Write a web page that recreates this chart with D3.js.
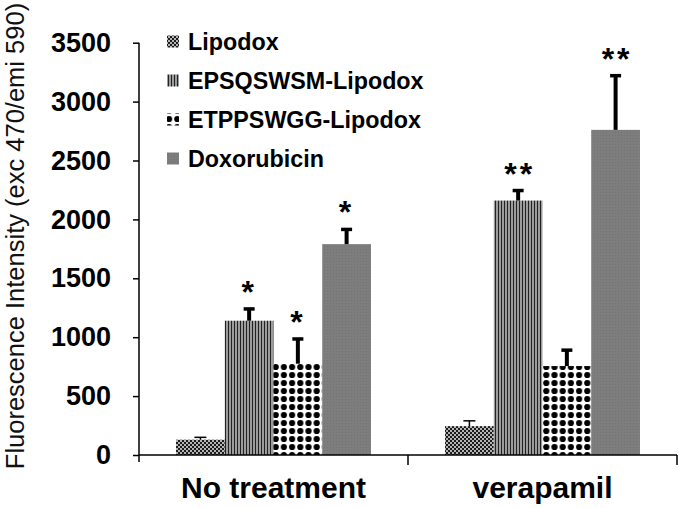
<!DOCTYPE html>
<html><head><meta charset="utf-8">
<script src="https://cdn.jsdelivr.net/npm/d3@7/dist/d3.min.js"></script>
<style>body{margin:0;background:#fff}svg{display:block;font-family:Arial,"Liberation Sans",sans-serif}</style>
</head><body><svg id="c" width="680" height="508"></svg>
<script>
const categories = ["No treatment", "verapamil"];
const series = ["Lipodox", "EPSQSWSM-Lipodox", "ETPPSWGG-Lipodox", "Doxorubicin"];
const values = [[130, 1140, 775, 1790], [245, 2160, 755, 2760]];
const errors = [[20, 100, 210, 125], [45, 85, 135, 460]];
const stars = [["", "*", "*", "*"], ["", "**", "", "**"]];
const yTicks = [0, 500, 1000, 1500, 2000, 2500, 3000, 3500];
const yTitle = "Fluorescence Intensity (exc 470/emi 590)";

const svg = d3.select("#c");
const L = 139, R = 677, T = 42.7, B = 455;
const y = d3.scaleLinear().domain([0, 3500]).range([B, T]);
const x0 = d3.scaleBand().domain(categories).range([L, R]).paddingInner(0).paddingOuter(0);
const x1 = d3.scaleBand().domain(series).range([0, x0.bandwidth()]).paddingInner(0).paddingOuter(0.76);

const defs = svg.append("defs");
// Lipodox: dark checker
let p = defs.append("pattern").attr("id", "p0").attr("patternUnits", "userSpaceOnUse").attr("width", 4).attr("height", 4);
p.append("rect").attr("width", 4).attr("height", 4).attr("fill", "#1c1c1c");
p.append("rect").attr("x", 0).attr("y", 0).attr("width", 2).attr("height", 2).attr("fill", "#b4b4b4");
p.append("rect").attr("x", 2).attr("y", 2).attr("width", 2).attr("height", 2).attr("fill", "#b4b4b4");
// EPSQ: vertical stripes
p = defs.append("pattern").attr("id", "p1").attr("patternUnits", "userSpaceOnUse").attr("width", 3).attr("height", 3);
p.append("rect").attr("width", 3).attr("height", 3).attr("fill", "#9c9c9c");
p.append("rect").attr("width", 1).attr("height", 3).attr("fill", "#222");
// ETPP: dots
p = defs.append("pattern").attr("id", "p2").attr("patternUnits", "userSpaceOnUse").attr("width", 8.2).attr("height", 8).attr("x", 1).attr("y", 3);
p.append("rect").attr("width", 8.2).attr("height", 8).attr("fill", "#fff");
p.append("circle").attr("cx", 4.1).attr("cy", 4).attr("r", 3.1).attr("fill", "#000");
// Doxorubicin: fine gray
p = defs.append("pattern").attr("id", "p3").attr("patternUnits", "userSpaceOnUse").attr("width", 3).attr("height", 3);
p.append("rect").attr("width", 3).attr("height", 3).attr("fill", "#7d7d7d");
p.append("rect").attr("width", 1).attr("height", 1).attr("fill", "#737373");
const fills = series.map((s, i) => `url(#p${i})`);

// bars
const g = svg.append("g");
categories.forEach((c, ci) => {
  series.forEach((s, si) => {
    const bx = x0(c) + x1(s), bw = x1.bandwidth(), v = values[ci][si], e = errors[ci][si];
    g.append("rect").attr("x", bx).attr("y", y(v)).attr("width", bw).attr("height", y(0) - y(v)).attr("fill", fills[si]);
    const cx = bx + bw / 2;
    const thin = si === 0;
    g.append("line").attr("x1", cx).attr("x2", cx).attr("y1", y(v)).attr("y2", y(v + e))
      .attr("stroke", "#000").attr("stroke-width", thin ? 1.5 : 4);
    g.append("line").attr("x1", cx - (thin ? 6 : 5.5)).attr("x2", cx + (thin ? 6 : 5.5)).attr("y1", y(v + e)).attr("y2", y(v + e))
      .attr("stroke", "#000").attr("stroke-width", thin ? 1.5 : 3.5);
    if (stars[ci][si]) {
      g.append("text").attr("x", cx).attr("y", y(v + e) - 6).attr("text-anchor", "middle")
        .attr("font-size", 32).attr("font-weight", "bold").attr("letter-spacing", 3)
        .attr("dx", stars[ci][si].length > 1 ? 1.5 : 0)
        .text(stars[ci][si]);
    }
  });
});

// y axis
const ya = svg.append("g").attr("transform", `translate(${L},0)`)
  .call(d3.axisLeft(y).tickValues(yTicks).tickSize(6).tickPadding(22).tickFormat(d3.format("d")));
ya.select(".domain").attr("d", `M0,${T}V${B + 7}`).attr("stroke", "#000").attr("stroke-width", 1.5);
ya.selectAll(".tick line").attr("stroke", "#000").attr("stroke-width", 1.5);
ya.selectAll("text").attr("font-size", 27).attr("font-weight", "bold").attr("fill", "#000")
  .attr("font-family", "Arial,'Liberation Sans',sans-serif");

// x axis
const xa = svg.append("g").attr("transform", `translate(0,${B})`);
xa.append("line").attr("x1", L).attr("x2", R).attr("stroke", "#000").attr("stroke-width", 1.5);
[L + x0.bandwidth(), R].forEach(t => {
  xa.append("line").attr("x1", t).attr("x2", t).attr("y1", 0).attr("y2", 10).attr("stroke", "#000").attr("stroke-width", 1.5);
});
categories.forEach(c => {
  xa.append("text").attr("x", x0(c) + x0.bandwidth() / 2).attr("y", 43).attr("text-anchor", "middle")
    .attr("font-size", 30).attr("font-weight", "bold").text(c);
});

// y title
svg.append("text").attr("transform", "translate(24,236) rotate(-90)").attr("text-anchor", "middle")
  .attr("font-size", 25.5).attr("fill", "#111").text(yTitle);

// legend
const lg = svg.append("g");
series.forEach((s, i) => {
  const cy = 41.5 + i * 39;
  lg.append("rect").attr("x", 167).attr("y", cy - 6).attr("width", 12).attr("height", 12).attr("fill", fills[i]);
  lg.append("text").attr("x", 188).attr("y", cy + 8.5).attr("font-size", 23.3).attr("font-weight", "bold").text(s);
});
</script></body></html>
